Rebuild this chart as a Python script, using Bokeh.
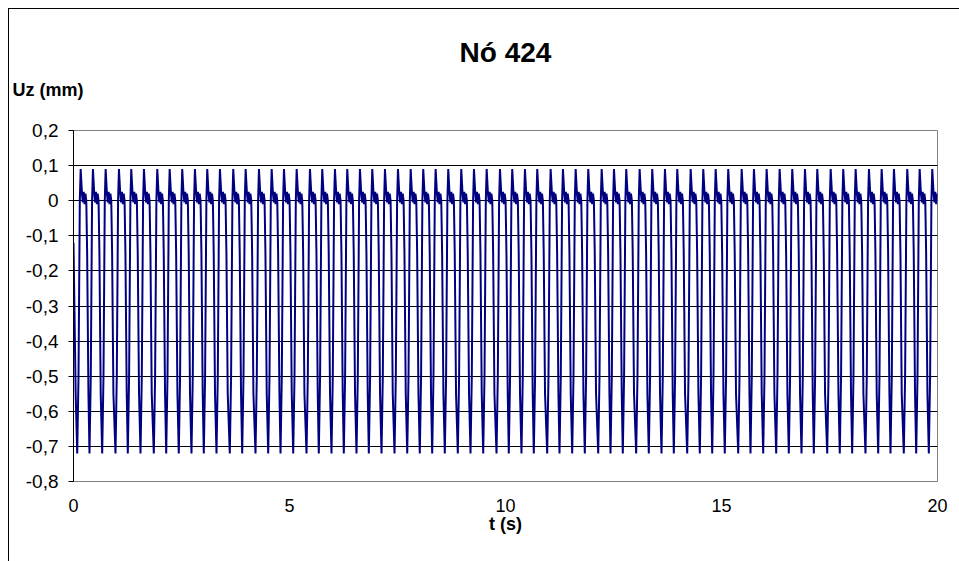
from bokeh.plotting import figure
from bokeh.models import Range1d, FixedTicker, ColumnDataSource, Title
from bokeh.embed import file_html
from bokeh.resources import INLINE

# ---- data ----
title_text = "Nó 424"
y_label = "Uz (mm)"
x_label = "t (s)"

x_ticks = [0, 5, 10, 15, 20]
y_ticks = [-0.8, -0.7, -0.6, -0.5, -0.4, -0.3, -0.2, -0.1, 0.0, 0.1, 0.2]
y_tick_labels = ["-0,8", "-0,7", "-0,6", "-0,5", "-0,4", "-0,3", "-0,2", "-0,1", "0", "0,1", "0,2"]

# times of the displacement minima (s)
trough_t = [0.086, 0.370, 0.664, 0.972, 1.257, 1.551, 1.859, 2.146, 2.437, 2.731,
            3.016, 3.310, 3.618, 3.905, 4.213, 4.507, 4.792, 5.086, 5.394, 5.678,
            5.972, 6.257, 6.551, 6.836, 7.130, 7.431, 7.725, 8.016, 8.303, 8.595,
            8.896, 9.190, 9.484, 9.792, 10.076, 10.370, 10.655, 10.965, 11.250, 11.544,
            11.836, 12.146, 12.431, 12.715, 13.025, 13.317, 13.611, 13.896, 14.206, 14.498,
            14.785, 15.076, 15.387, 15.671, 15.965, 16.266, 16.558, 16.852, 17.137, 17.447,
            17.738, 18.025, 18.333, 18.627, 18.912, 19.220, 19.507, 19.799]

# shape of one oscillation after each minimum (time offset s, Uz mm)
cycle_dt = [0.0, 0.03, 0.06, 0.08, 0.11, 0.13, 0.15, 0.17, 0.19, 0.21, 0.23, 0.26]
cycle_uz = [-0.72, -0.50, 0.0, 0.09, 0.02, -0.005, 0.025, -0.01, 0.02, 0.0, -0.15, -0.55]

start_t = [0.0, 0.05]
start_uz = [-0.12, -0.55]
t_end = 20.0

# ---- build series ----
ts = list(start_t)
us = list(start_uz)
for tr in trough_t:
    for d, u in zip(cycle_dt, cycle_uz):
        tt = tr + d
        if tt <= t_end:
            ts.append(tt)
            us.append(u)
src = ColumnDataSource(dict(t=ts, uz=us))

W, H = 959, 561
ML, MR, MT, MB = 73, 22, 130, 80

FONT = "Liberation Sans"
p = figure(width=W, height=H, output_backend="svg", toolbar_location=None,
           x_range=Range1d(0, 20), y_range=Range1d(-0.8, 0.2),
           min_border_left=ML, min_border_right=MR, min_border_top=MT, min_border_bottom=MB)
# outer chart frame: top and left edges (the others lie outside the window)
p.styles = {
    "background": "linear-gradient(#000, #000) 8px 8px / 951px 1px no-repeat, "
                  "linear-gradient(#000, #000) 8px 8px / 1px 553px no-repeat, #ffffff",
}
p.background_fill_color = "white"
p.border_fill_color = None
p.outline_line_color = "#808080"
p.outline_line_width = 1

p.xgrid.grid_line_color = None
p.ygrid.grid_line_color = "black"
p.ygrid.grid_line_width = 1
p.ygrid.ticker = FixedTicker(ticks=y_ticks)

p.yaxis.ticker = FixedTicker(ticks=y_ticks)
p.yaxis.major_label_overrides = {v: s for v, s in zip(y_ticks, y_tick_labels)}
p.yaxis.axis_line_color = "black"
p.yaxis.major_tick_line_color = "black"
p.yaxis.major_tick_out = 5
p.yaxis.major_tick_in = 0
p.yaxis.minor_tick_line_color = None
p.yaxis.major_label_text_font = FONT
p.yaxis.major_label_text_font_size = "19px"
p.yaxis.major_label_text_color = "black"
p.yaxis.major_label_standoff = 10

p.xaxis.ticker = FixedTicker(ticks=x_ticks)
p.xaxis.axis_line_color = None
p.xaxis.major_tick_line_color = None
p.xaxis.minor_tick_line_color = None
p.xaxis.major_label_text_font = FONT
p.xaxis.major_label_text_font_size = "18px"
p.xaxis.major_label_text_color = "black"
p.xaxis.major_label_standoff = 11
p.xaxis.axis_label = x_label
p.xaxis.axis_label_text_font = FONT
p.xaxis.axis_label_text_font_size = "18px"
p.xaxis.axis_label_text_font_style = "bold"
p.xaxis.axis_label_text_color = "black"
p.xaxis.axis_label_standoff = -1

p.line("t", "uz", source=src, line_color="#000080", line_width=2)

# y-axis caption, set horizontally above the top-left of the plot area
p.add_layout(Title(text=y_label, align="left", offset=-61, standoff=62,
                   text_font=FONT, text_font_size="18px", text_font_style="bold",
                   text_color="black"), "above")
p.title.text = title_text
p.title.align = "center"
p.title.text_font = FONT
p.title.text_font_size = "28px"
p.title.text_font_style = "bold"
p.title.text_color = "black"
p.title.standoff = -43

open("out.html", "w").write(file_html(p, INLINE))
